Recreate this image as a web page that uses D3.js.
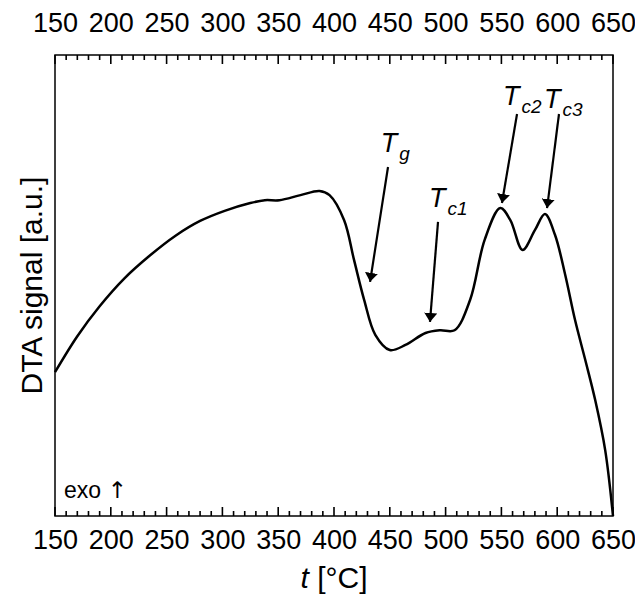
<!DOCTYPE html>
<html><head><meta charset="utf-8">
<script src="https://cdn.jsdelivr.net/npm/d3@7"></script>
<style>body{margin:0;background:#fff}</style>
</head><body><div id="chart"></div>
<script>
// DTA curve
const temps = [150,170,190,212,235,258,280,302,325,338,351,370,387,396,409,418,427,437,450,464,482,495,508,522,535,549,558,569,580,589,598,607,616,625,634,643,650];
const signal = [31.2,39.0,45.5,51.5,56.5,60.8,64.0,66.2,67.9,68.5,68.5,69.6,70.5,69.6,64.2,55.5,46.9,39.3,36.0,37.1,39.7,40.3,40.3,46.9,59.9,66.8,64.2,57.7,62.0,65.5,61.0,52.5,42.5,34.0,25.2,14.3,0];
const xTicks = [150,200,250,300,350,400,450,500,550,600,650];
const minorTicks = [150,160,170,180,190,200,210,220,230,240,250,260,270,280,290,300,310,320,330,340,350,360,370,380,390,400,410,420,430,440,450,460,470,480,490,500,510,520,530,540,550,560,570,580,590,600,610,620,630,640,650];
// annotations: label (t, signal), arrow start and tip (t, signal)
const labels = [
  {sub:"g",  lx:450,   ly:79.0, sx:448.4, sy:75.7, tx:432.3, ty:50.8},
  {sub:"c1", lx:493.2, ly:67.0, sx:493.2, sy:63.8, tx:486.0, ty:42.1},
  {sub:"c2", lx:559.5, ly:89.2, sx:564.0, sy:87.2, tx:550.5, ty:67.9},
  {sub:"c3", lx:596.2, ly:88.5, sx:601.6, sy:87.2, tx:590.9, ty:66.8}
];

const W = 635, H = 596;
const margin = {top:55, right:22, bottom:80, left:55};
const width = W - margin.left - margin.right;
const height = H - margin.top - margin.bottom;
const font = "Arial, 'Liberation Sans', sans-serif";

const svg = d3.select("#chart").append("svg").attr("width", W).attr("height", H);
const g = svg.append("g").attr("transform", `translate(${margin.left},${margin.top})`);

const x = d3.scaleLinear().domain([150, 650]).range([0, width]);
const y = d3.scaleLinear().domain([0, 100]).range([height, 0]);

svg.append("defs").append("marker").attr("id","arr").attr("viewBox","0 0 10 10")
  .attr("refX",10).attr("refY",5).attr("markerWidth",9).attr("markerHeight",13)
  .attr("markerUnits","userSpaceOnUse").attr("orient","auto").attr("preserveAspectRatio","none")
  .append("path").attr("d","M0,0 L10,5 L0,10 z").attr("fill","#000");

// inward tick marks drawn as thin rects
[height, 0].forEach(gy => {
  g.append("g").selectAll("rect").data(minorTicks).join("rect")
    .attr("x", d => x(d) - 0.8)
    .attr("width", 1.6)
    .attr("y", d => gy === 0 ? 0 : gy - (d % 50 === 0 ? 9 : 5))
    .attr("height", d => d % 50 === 0 ? 9 : 5)
    .attr("fill", "#000");
});
g.append("g").attr("transform", `translate(0,${height})`)
  .call(d3.axisBottom(x).tickValues(xTicks).tickSize(0).tickPadding(14))
  .call(a => a.select(".domain").remove());
g.append("g")
  .call(d3.axisTop(x).tickValues(xTicks).tickSize(0).tickPadding(23))
  .call(a => a.select(".domain").remove());
g.selectAll(".tick text").style("font-family",font).style("font-size","27px").attr("fill","#000");

g.append("rect").attr("width", width).attr("height", height)
  .attr("fill","none").attr("stroke","#000").attr("stroke-width",1.5);

const line = d3.line().x((d,i) => x(temps[i])).y(d => y(d)).curve(d3.curveCatmullRom);
g.append("path").datum(signal).attr("d", line)
  .attr("fill","none").attr("stroke","#000").attr("stroke-width",2.5);

labels.forEach(l => {
  const t = g.append("text").attr("x", x(l.lx) - 9).attr("y", y(l.ly))
    .style("font-family",font).style("font-size","27px").style("font-style","italic");
  t.append("tspan").text("T");
  t.append("tspan").attr("dx",2).attr("dy",8).style("font-size","19px").text(l.sub);
  g.append("line").attr("x1", x(l.sx)).attr("y1", y(l.sy))
    .attr("x2", x(l.tx)).attr("y2", y(l.ty))
    .attr("stroke","#000").attr("stroke-width",2.2).attr("marker-end","url(#arr)");
});

const exo = g.append("text").attr("x",9).attr("y",height - 18)
  .style("font-family",font).style("font-size","23px");
exo.append("tspan").text("exo ");
exo.append("tspan").style("font-family","'DejaVu Sans'").text("\u2191");

svg.append("text").attr("transform",`translate(42,${margin.top + height/2}) rotate(-90)`)
  .attr("text-anchor","middle").style("font-family",font).style("font-size","30px")
  .text("DTA signal [a.u.]");

const xl = svg.append("text").attr("x", margin.left + width/2).attr("y", H - 8)
  .attr("text-anchor","middle").style("font-family",font).style("font-size","30px");
xl.append("tspan").style("font-style","italic").text("t");
xl.append("tspan").text(" [°C]");
</script></body></html>
